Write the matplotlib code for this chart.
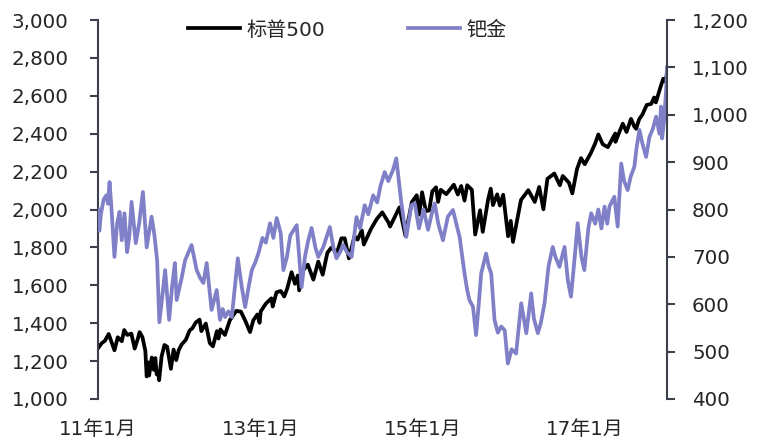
import matplotlib
matplotlib.use("Agg")
import matplotlib.pyplot as plt
import pandas as pd
from matplotlib.ticker import FuncFormatter

plt.rcParams['font.family'] = ['DejaVu Sans', 'Noto Sans CJK SC']

# ---------------- data ----------------
sp_dates = [
    "2011-01-03","2011-01-18","2011-02-01","2011-02-18","2011-03-16","2011-03-31","2011-04-18","2011-04-29",
    "2011-05-13","2011-05-31","2011-06-15","2011-06-30","2011-07-07","2011-07-20","2011-08-02","2011-08-08",
    "2011-08-16","2011-08-19","2011-08-31","2011-09-09","2011-09-16","2011-09-22","2011-09-30","2011-10-03",
    "2011-10-14","2011-10-27","2011-11-08","2011-11-25","2011-12-07","2011-12-19","2011-12-30","2012-01-13",
    "2012-01-31","2012-02-17","2012-03-01","2012-03-16","2012-04-02","2012-04-10","2012-04-30","2012-05-18",
    "2012-06-01","2012-06-19","2012-06-26","2012-07-05","2012-07-25","2012-08-16","2012-09-14","2012-10-05",
    "2012-10-25","2012-11-15","2012-11-30","2012-12-18","2012-12-28","2013-01-02","2013-01-25","2013-02-19",
    "2013-02-25","2013-03-14","2013-04-02","2013-04-18","2013-05-01","2013-05-21","2013-06-05","2013-06-18",
    "2013-06-24","2013-07-12","2013-08-02","2013-08-27","2013-09-18","2013-10-08","2013-10-29","2013-11-15",
    "2013-12-12","2013-12-31","2014-01-15","2014-02-03","2014-02-28","2014-03-14","2014-04-02","2014-04-11",
    "2014-05-13","2014-06-09","2014-07-03","2014-07-31","2014-08-07","2014-09-18","2014-10-15","2014-11-13",
    "2014-12-05","2014-12-16","2014-12-29","2015-01-15","2015-01-30","2015-02-13","2015-03-02","2015-03-11",
    "2015-03-23","2015-04-17","2015-05-21","2015-06-08","2015-06-23","2015-07-08","2015-07-20","2015-08-10",
    "2015-08-25","2015-09-16","2015-09-28","2015-10-22","2015-11-03","2015-11-13","2015-12-02","2015-12-14",
    "2015-12-29","2016-01-20","2016-02-01","2016-02-11","2016-03-18","2016-04-20","2016-05-19","2016-06-08",
    "2016-06-27","2016-07-15","2016-08-15","2016-09-09","2016-09-22","2016-10-20","2016-11-04","2016-11-25",
    "2016-12-13","2016-12-30","2017-01-26","2017-02-15","2017-03-01","2017-03-21","2017-04-13","2017-05-16",
    "2017-05-17","2017-06-19","2017-07-06","2017-07-26","2017-08-10","2017-08-18","2017-09-01","2017-09-15",
    "2017-10-05","2017-10-25","2017-11-07","2017-11-15","2017-12-04","2017-12-18","2017-12-29","2018-01-04",
]
sp_values = [
    1271,1295,1307,1343,1257,1326,1305,1364,
    1338,1345,1266,1321,1353,1326,1254,1119,
    1193,1124,1219,1154,1216,1130,1131,1099,
    1224,1285,1276,1159,1261,1205,1258,1289,
    1312,1361,1374,1404,1419,1358,1398,1295,
    1278,1358,1319,1367,1338,1415,1465,1461,
    1412,1353,1416,1446,1402,1462,1503,1531,
    1488,1563,1570,1541,1582,1669,1608,1652,
    1573,1680,1709,1630,1725,1656,1772,1798,
    1775,1848,1848,1742,1859,1841,1890,1815,
    1897,1951,1985,1931,1910,2011,1862,2039,
    2075,1973,2091,1992,1995,2096,2117,2040,
    2104,2081,2131,2079,2124,2047,2128,2104,
    1868,1996,1882,2052,2110,2023,2080,2021,
    2078,1859,1940,1829,2050,2102,2040,2119,
    2001,2162,2190,2128,2177,2141,2085,2213,
    2271,2239,2297,2349,2396,2344,2329,2401,
    2357,2453,2409,2478,2438,2426,2477,2500,
    2552,2557,2591,2565,2640,2690,2674,2723,
]

pd_dates = [
    "2011-01-03","2011-01-07","2011-01-14","2011-01-27","2011-02-08","2011-02-15","2011-02-22","2011-03-03",
    "2011-03-16","2011-03-28","2011-04-08","2011-04-18","2011-04-30","2011-05-12","2011-05-22","2011-06-01",
    "2011-06-20","2011-07-05","2011-07-22","2011-08-08","2011-08-30","2011-09-12","2011-09-24","2011-10-04",
    "2011-10-18","2011-10-30","2011-11-17","2011-12-01","2011-12-13","2011-12-21","2012-01-13","2012-01-28",
    "2012-02-26","2012-03-20","2012-04-05","2012-04-19","2012-05-04","2012-05-26","2012-06-18","2012-07-03",
    "2012-07-15","2012-07-26","2012-08-10","2012-08-25","2012-09-21","2012-10-09","2012-10-24","2012-11-10",
    "2012-11-23","2012-12-10","2012-12-23","2013-01-10","2013-01-25","2013-02-13","2013-02-28","2013-03-15",
    "2013-04-02","2013-04-14","2013-04-30","2013-05-15","2013-06-13","2013-07-05","2013-07-20","2013-08-04",
    "2013-08-19","2013-09-05","2013-09-18","2013-10-10","2013-11-09","2013-11-25","2013-12-09","2013-12-25",
    "2014-01-08","2014-01-25","2014-02-15","2014-03-09","2014-03-25","2014-04-15","2014-05-01","2014-05-23",
    "2014-06-10","2014-06-25","2014-07-14","2014-07-30","2014-08-20","2014-09-04","2014-09-27","2014-10-19",
    "2014-11-11","2014-11-26","2014-12-15","2015-01-05","2015-01-25","2015-02-10","2015-02-24","2015-03-12",
    "2015-04-02","2015-04-24","2015-05-17","2015-06-01","2015-06-16","2015-07-08","2015-07-20","2015-07-30",
    "2015-08-15","2015-08-29","2015-09-10","2015-09-21","2015-10-13","2015-10-25","2015-11-05","2015-11-20",
    "2015-12-05","2015-12-20","2016-01-05","2016-01-19","2016-02-05","2016-02-25","2016-03-19","2016-04-11",
    "2016-05-03","2016-05-15","2016-06-02","2016-06-15","2016-07-02","2016-07-20","2016-08-08","2016-08-20",
    "2016-09-07","2016-09-30","2016-10-15","2016-10-29","2016-11-15","2016-11-28","2016-12-15","2016-12-28",
    "2017-01-15","2017-01-28","2017-02-15","2017-03-01","2017-03-15","2017-03-29","2017-04-10","2017-04-20",
    "2017-05-12","2017-05-27","2017-06-12","2017-06-25","2017-07-11","2017-07-25","2017-08-10","2017-08-20",
    "2017-09-02","2017-09-15","2017-10-02","2017-10-17","2017-11-01","2017-11-16","2017-12-01","2017-12-08",
    "2017-12-13","2017-12-22","2017-12-31","2018-01-04",
]
pd_values = [
    800,755,790,822,830,812,858,800,
    700,770,795,735,792,710,745,816,
    729,770,837,720,785,745,693,562,
    620,672,567,640,687,609,657,693,
    725,672,655,645,687,588,630,567,
    590,573,585,573,697,636,594,640,
    672,690,708,740,730,771,740,782,
    750,672,700,745,767,636,700,735,
    761,720,700,720,763,720,697,710,
    725,710,700,784,760,809,790,830,
    815,850,879,860,883,908,813,742,
    809,813,760,800,757,790,813,770,
    735,785,799,770,742,665,630,609,
    595,535,600,665,707,680,665,567,
    540,553,545,475,505,496,602,539,
    623,570,539,560,602,680,721,700,
    679,721,650,616,700,771,700,672,
    760,792,770,800,760,806,770,806,
    827,764,897,860,841,870,890,930,
    968,940,911,953,970,996,960,1017,
    950,989,1052,1100,
]

x_tick_dates = ["2011-01-01", "2013-01-01", "2015-01-01", "2017-01-01"]
x_tick_labels = ["11年1月", "13年1月", "15年1月", "17年1月"]
left_ticks = list(range(1000, 3001, 200))
right_ticks = list(range(400, 1201, 100))
series_names = ["标普500", "钯金"]

# ---------------- plot ----------------
W, H = 760, 447
fig = plt.figure(figsize=(W / 100, H / 100), dpi=100)
ax = fig.add_axes([98 / W, 1 - 399 / H, (667 - 98) / W, (399 - 20) / H])
ax2 = ax.twinx()

spine_c = "#3c404c"
text_c = "#262626"
purple = "#8080C8"

l1, = ax.plot(pd.to_datetime(sp_dates), sp_values, color="black", lw=2.7,
              label=series_names[0], solid_joinstyle="round")
l2, = ax2.plot(pd.to_datetime(pd_dates), pd_values, color=purple, lw=2.7,
               label=series_names[1], solid_joinstyle="round")

ax.set_xlim(pd.Timestamp("2011-01-01"), pd.Timestamp("2018-01-04"))
ax.set_ylim(1000, 3000)
ax2.set_ylim(400, 1200)

ax.set_xticks(pd.to_datetime(x_tick_dates))
ax.set_xticklabels(x_tick_labels)
ax.set_yticks(left_ticks)
ax2.set_yticks(right_ticks)
fmt = FuncFormatter(lambda v, p: f"{int(v):,}")
ax.yaxis.set_major_formatter(fmt)
ax2.yaxis.set_major_formatter(fmt)

for a in (ax, ax2):
    for s in ("top", "bottom"):
        a.spines[s].set_visible(False)
ax.spines["right"].set_visible(False)
ax2.spines["left"].set_visible(False)
ax.spines["left"].set_color(spine_c)
ax.spines["left"].set_linewidth(1.5)
ax2.spines["right"].set_color(spine_c)
ax2.spines["right"].set_linewidth(1.5)

ax.tick_params(axis="x", length=0, pad=15, labelsize=14.3, labelcolor=text_c)
ax.tick_params(axis="y", length=6, width=1.5, color=spine_c, pad=15,
               labelsize=14.3, labelcolor=text_c)
ax2.tick_params(axis="y", length=6, width=1.5, color=spine_c, pad=12,
                labelsize=14.3, labelcolor=text_c)

leg = fig.legend([l1, l2], series_names, loc="center left",
                 bbox_to_anchor=(188 / W, 1 - 30 / H), bbox_transform=fig.transFigure,
                 ncol=2, frameon=False, fontsize=14.5, handlelength=2.6,
                 handletextpad=0.3, columnspacing=4.1, borderpad=0, borderaxespad=0)
for t in leg.get_texts():
    t.set_color(text_c)

fig.savefig("out.png", dpi=100)
